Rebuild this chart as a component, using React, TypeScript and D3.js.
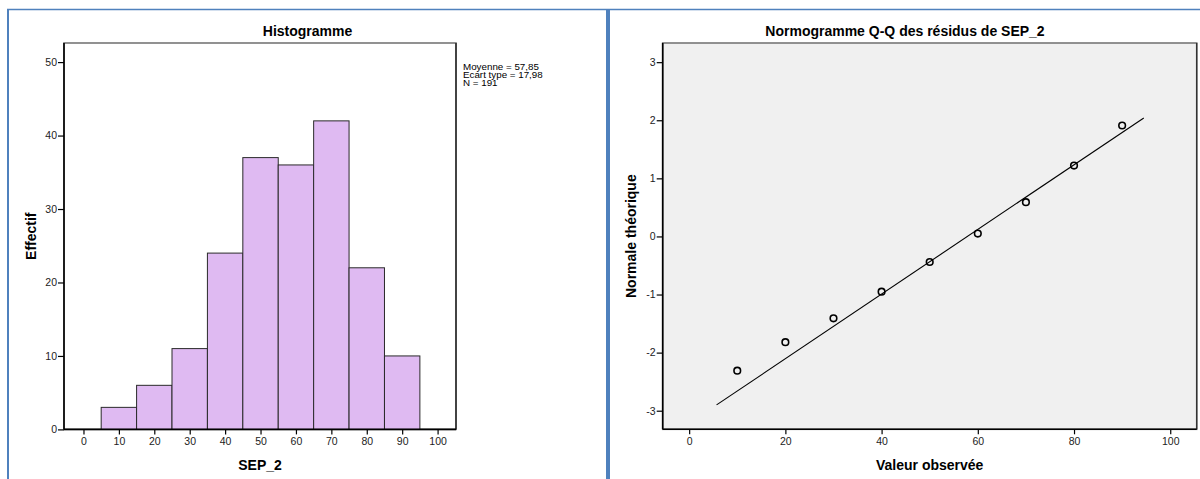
import { useEffect, useRef } from 'react';
import * as d3 from 'd3';

// histogram of SEP_2
const binLo = [5, 15, 25, 35, 45, 55, 65, 75, 85];
const binHi = [15, 25, 35, 45, 55, 65, 75, 85, 95];
const counts = [3, 6, 11, 24, 37, 36, 42, 22, 10];
const histTicksX = [0, 10, 20, 30, 40, 50, 60, 70, 80, 90, 100];
const histTicksY = [0, 10, 20, 30, 40, 50];
const statLines = ['Moyenne = 57,85', 'Ecart type = 17,98', 'N = 191'];

// Q-Q plot
const qqObserved = [10, 20, 30, 40, 50, 60, 70, 80, 90];
const qqExpected = [-2.31, -1.82, -1.41, -0.95, -0.44, 0.05, 0.59, 1.22, 1.91];
const qqLineX = [5.7, 94.5];
const qqLineY = [-2.9, 2.04];
const qqTicksX = [0, 20, 40, 60, 80, 100];
const qqTicksY = [-3, -2, -1, 0, 1, 2, 3];

const FONT = '"Liberation Sans", Arial, sans-serif';
const BLUE = '#4f81bd';

export default function App() {
  const svgRef = useRef<SVGSVGElement | null>(null);

  useEffect(() => {
    if (!svgRef.current) return;
    const svg = d3.select(svgRef.current);
    svg.selectAll('*').remove();

    svg.append('rect').attr('width', 1200).attr('height', 479).attr('fill', '#fff');

    // panel borders
    svg.append('line').attr('x1', 7).attr('x2', 1200).attr('y1', 9.5).attr('y2', 9.5)
      .attr('stroke', BLUE).attr('stroke-width', 1.5);
    svg.append('line').attr('x1', 8).attr('x2', 8).attr('y1', 9).attr('y2', 479)
      .attr('stroke', BLUE).attr('stroke-width', 2);
    svg.append('line').attr('x1', 608).attr('x2', 608).attr('y1', 9).attr('y2', 479)
      .attr('stroke', BLUE).attr('stroke-width', 4);

    const styleAxis = (g: any) => {
      g.select('.domain').remove();
      g.selectAll('.tick line').attr('stroke', '#000').attr('stroke-width', 1.2);
      g.selectAll('.tick text')
        .attr('fill', '#222')
        .attr('font-family', FONT)
        .attr('font-size', '10.5px');
    };
    const plain = (d: any) => String(d);

    // ---------- Histogram ----------
    const hL = 64, hR = 456, hT = 43, hB = 429.4;
    const hx = d3.scaleLinear().domain([-5.5, 105.2]).range([hL, hR]);
    const hy = d3.scaleLinear().domain([0, 52.6]).range([hB, hT]);

    const h = svg.append('g');
    h.append('rect').attr('x', hL).attr('y', hT).attr('width', hR - hL).attr('height', hB - hT)
      .attr('fill', '#fff').attr('stroke', '#777').attr('stroke-width', 1.6);

    h.selectAll('rect.bar')
      .data(counts)
      .join('rect')
      .attr('class', 'bar')
      .attr('x', (_d, i) => hx(binLo[i]))
      .attr('width', (_d, i) => hx(binHi[i]) - hx(binLo[i]))
      .attr('y', (d) => hy(d))
      .attr('height', (d) => hB - hy(d))
      .attr('fill', '#dfbaf2')
      .attr('stroke', '#2a2a2a')
      .attr('stroke-width', 1);

    h.append('line').attr('x1', hR).attr('x2', hR).attr('y1', hT).attr('y2', hB)
      .attr('stroke', '#222').attr('stroke-width', 1.4);
    h.append('line').attr('x1', hL).attr('x2', hL).attr('y1', hT).attr('y2', hB)
      .attr('stroke', '#000').attr('stroke-width', 1.6);
    h.append('line').attr('x1', hL).attr('x2', hR).attr('y1', hB).attr('y2', hB)
      .attr('stroke', '#000').attr('stroke-width', 1.6);

    h.append('g')
      .attr('transform', `translate(${hL},0)`)
      .call(d3.axisLeft(hy).tickValues(histTicksY).tickSize(6).tickPadding(1).tickFormat(plain))
      .call(styleAxis);
    h.append('g')
      .attr('transform', `translate(0,${hB})`)
      .call(d3.axisBottom(hx).tickValues(histTicksX).tickSize(5).tickPadding(3).tickFormat(plain))
      .call(styleAxis);

    h.append('text').attr('x', 307.5).attr('y', 36).attr('text-anchor', 'middle')
      .attr('font-family', FONT).attr('font-weight', 'bold').attr('font-size', '14px')
      .text('Histogramme');
    h.append('text').attr('x', (hL + hR) / 2).attr('y', 470).attr('text-anchor', 'middle')
      .attr('font-family', FONT).attr('font-weight', 'bold').attr('font-size', '14px')
      .text('SEP_2');
    h.append('text')
      .attr('transform', `translate(36,${(hT + hB) / 2}) rotate(-90)`)
      .attr('text-anchor', 'middle')
      .attr('font-family', FONT).attr('font-weight', 'bold').attr('font-size', '14px')
      .text('Effectif');

    const stats = h.append('g').attr('transform', 'translate(463,70) scale(1,0.9)');
    statLines.forEach((s, i) => {
      stats.append('text').attr('x', 0).attr('y', i * 9)
        .attr('font-family', FONT).attr('font-size', '9.8px').attr('fill', '#000')
        .text(s);
    });

    // ---------- Q-Q plot ----------
    const qL = 662.7, qR = 1196.7, qT = 43, qB = 429.3;
    const qx = d3.scaleLinear().domain([-5.5, 105.5]).range([qL, qR]);
    const qy = d3.scaleLinear().domain([-3.32, 3.33]).range([qB, qT]);

    const q = svg.append('g');
    q.append('rect').attr('x', qL).attr('y', qT).attr('width', qR - qL).attr('height', qB - qT)
      .attr('fill', '#f0f0f0').attr('stroke', '#777').attr('stroke-width', 1.6);
    q.append('line').attr('x1', qR).attr('x2', qR).attr('y1', qT).attr('y2', qB)
      .attr('stroke', '#333').attr('stroke-width', 1.4);
    q.append('line').attr('x1', qL).attr('x2', qL).attr('y1', qT).attr('y2', qB)
      .attr('stroke', '#000').attr('stroke-width', 1.6);
    q.append('line').attr('x1', qL).attr('x2', qR).attr('y1', qB).attr('y2', qB)
      .attr('stroke', '#000').attr('stroke-width', 1.6);

    const line = d3.line<number>()
      .x((d) => qx(d))
      .y((_d, i) => qy(qqLineY[i]));
    q.append('path').attr('d', line(qqLineX)).attr('fill', 'none')
      .attr('stroke', '#000').attr('stroke-width', 1.1);

    q.selectAll('circle')
      .data(qqObserved)
      .join('circle')
      .attr('cx', (d) => qx(d))
      .attr('cy', (_d, i) => qy(qqExpected[i]))
      .attr('r', 3.3)
      .attr('fill', 'none')
      .attr('stroke', '#000')
      .attr('stroke-width', 1.6);

    q.append('g')
      .attr('transform', `translate(${qL},0)`)
      .call(d3.axisLeft(qy).tickValues(qqTicksY).tickSize(6).tickPadding(1).tickFormat(plain))
      .call(styleAxis);
    q.append('g')
      .attr('transform', `translate(0,${qB})`)
      .call(d3.axisBottom(qx).tickValues(qqTicksX).tickSize(5).tickPadding(3).tickFormat(plain))
      .call(styleAxis);

    q.append('text').attr('x', 905).attr('y', 36).attr('text-anchor', 'middle')
      .attr('font-family', FONT).attr('font-weight', 'bold').attr('font-size', '14px')
      .text('Normogramme Q-Q des résidus de SEP_2');
    q.append('text').attr('x', (qL + qR) / 2).attr('y', 470).attr('text-anchor', 'middle')
      .attr('font-family', FONT).attr('font-weight', 'bold').attr('font-size', '14px')
      .text('Valeur observée');
    q.append('text')
      .attr('transform', `translate(636,${(qT + qB) / 2}) rotate(-90)`)
      .attr('text-anchor', 'middle')
      .attr('font-family', FONT).attr('font-weight', 'bold').attr('font-size', '14px')
      .text('Normale théorique');
  }, []);

  return (
    <svg
      ref={svgRef}
      width={1200}
      height={479}
      style={{ position: 'absolute', left: 0, top: 0, display: 'block' }}
    />
  );
}
